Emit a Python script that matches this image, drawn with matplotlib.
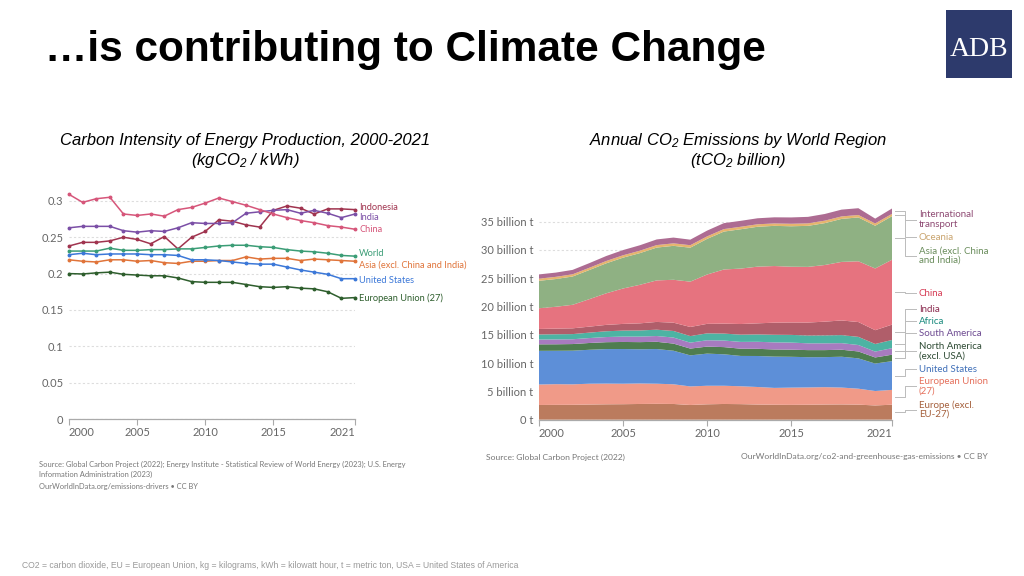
import numpy as np
import matplotlib.pyplot as plt
from matplotlib.lines import Line2D

plt.rcParams['font.family'] = ['Lato', 'DejaVu Sans']
plt.rcParams['mathtext.fontset'] = 'custom'
plt.rcParams['mathtext.rm'] = 'Liberation Sans:italic'
plt.rcParams['mathtext.it'] = 'Liberation Sans:italic'
plt.rcParams['mathtext.default'] = 'rm'

# ---- left chart: carbon intensity (kgCO2 / kWh) ----
years = np.arange(2000, 2022)

indonesia = [0.238, 0.243, 0.243, 0.245, 0.250, 0.247, 0.241, 0.251, 0.234, 0.250, 0.258,
             0.274, 0.272, 0.267, 0.264, 0.287, 0.293, 0.290, 0.282, 0.289, 0.289, 0.288]
india = [0.263, 0.265, 0.265, 0.265, 0.259, 0.257, 0.259, 0.258, 0.263, 0.270, 0.269,
         0.269, 0.270, 0.283, 0.285, 0.287, 0.288, 0.283, 0.287, 0.283, 0.277, 0.282]
china = [0.309, 0.298, 0.303, 0.305, 0.282, 0.280, 0.282, 0.279, 0.288, 0.291, 0.297,
         0.304, 0.299, 0.294, 0.288, 0.282, 0.277, 0.273, 0.270, 0.266, 0.264, 0.261]
world = [0.231, 0.231, 0.231, 0.235, 0.232, 0.232, 0.233, 0.233, 0.234, 0.234, 0.236,
         0.238, 0.239, 0.239, 0.237, 0.236, 0.233, 0.231, 0.230, 0.228, 0.225, 0.224]
asia_ex = [0.219, 0.217, 0.216, 0.219, 0.219, 0.217, 0.218, 0.215, 0.214, 0.217, 0.217,
           0.218, 0.218, 0.223, 0.220, 0.221, 0.221, 0.218, 0.220, 0.219, 0.218, 0.217]
usa = [0.226, 0.228, 0.226, 0.227, 0.227, 0.227, 0.226, 0.226, 0.225, 0.219, 0.219,
       0.218, 0.216, 0.214, 0.213, 0.213, 0.209, 0.205, 0.202, 0.199, 0.193, 0.193]
eu = [0.200, 0.1995, 0.201, 0.202, 0.199, 0.198, 0.197, 0.197, 0.194, 0.189, 0.188,
      0.188, 0.188, 0.185, 0.182, 0.181, 0.182, 0.180, 0.179, 0.175, 0.166, 0.167]

left_series = [
    ('Indonesia', indonesia, '#a0344f'),
    ('India', india, '#7b4fa6'),
    ('China', china, '#d6567a'),
    ('World', world, '#3b9d76'),
    ('Asia (excl. China and India)', asia_ex, '#e0743a'),
    ('United States', usa, '#3c78d8'),
    ('European Union (27)', eu, '#2e5e2d'),
]
left_label_y = [0.2916, 0.2765, 0.261, 0.227, 0.212, 0.191, 0.1664]
left_yticks = [0, 0.05, 0.1, 0.15, 0.2, 0.25, 0.3]
left_yticklabels = ['0', '0.05', '0.1', '0.15', '0.2', '0.25', '0.3']
xticks = [2000, 2005, 2010, 2015, 2021]

# ---- right chart: annual CO2 emissions by region (billion t) ----
europe_ex = [2.60, 2.62, 2.63, 2.68, 2.72, 2.74, 2.78, 2.80, 2.78, 2.60, 2.72,
             2.78, 2.75, 2.68, 2.64, 2.62, 2.64, 2.68, 2.70, 2.66, 2.52, 2.65]
eu27 = [3.62, 3.66, 3.62, 3.68, 3.66, 3.62, 3.62, 3.56, 3.48, 3.28, 3.28,
        3.22, 3.16, 3.10, 2.98, 3.05, 3.06, 3.07, 2.98, 2.82, 2.55, 2.62]
us = [5.95, 5.90, 5.95, 6.00, 6.10, 6.13, 6.05, 6.13, 5.93, 5.49, 5.68,
      5.56, 5.36, 5.48, 5.53, 5.45, 5.35, 5.31, 5.45, 5.36, 4.85, 5.08]
north_am = [1.15, 1.15, 1.17, 1.20, 1.22, 1.25, 1.26, 1.28, 1.26, 1.20, 1.24,
            1.27, 1.28, 1.27, 1.26, 1.26, 1.25, 1.24, 1.24, 1.22, 1.08, 1.14]
south_am = [0.85, 0.86, 0.85, 0.87, 0.91, 0.95, 0.98, 1.02, 1.07, 1.05, 1.12,
            1.16, 1.20, 1.24, 1.26, 1.25, 1.20, 1.20, 1.16, 1.14, 1.04, 1.15]
africa = [0.89, 0.91, 0.91, 0.96, 1.02, 1.06, 1.08, 1.12, 1.16, 1.16, 1.22,
          1.23, 1.28, 1.30, 1.34, 1.36, 1.38, 1.40, 1.42, 1.44, 1.34, 1.45]
india_em = [0.98, 1.00, 1.02, 1.06, 1.13, 1.18, 1.26, 1.37, 1.47, 1.61, 1.68,
            1.76, 1.88, 1.96, 2.14, 2.19, 2.29, 2.43, 2.59, 2.62, 2.44, 2.71]
china_em = [3.66, 3.86, 4.16, 4.86, 5.58, 6.26, 6.81, 7.34, 7.58, 8.01, 8.72,
            9.57, 9.80, 10.02, 10.01, 9.86, 9.84, 10.01, 10.35, 10.74, 10.91, 11.47]
asia_em = [4.85, 4.90, 5.00, 5.15, 5.30, 5.45, 5.60, 5.80, 6.00, 6.00, 6.30,
           6.70, 6.95, 7.05, 7.10, 7.15, 7.25, 7.40, 7.60, 7.75, 7.55, 7.70]
oceania = [0.38, 0.39, 0.39, 0.40, 0.41, 0.42, 0.43, 0.44, 0.44, 0.44, 0.44,
           0.44, 0.44, 0.44, 0.43, 0.44, 0.44, 0.44, 0.44, 0.43, 0.41, 0.41]
intl = [0.75, 0.75, 0.78, 0.82, 0.88, 0.92, 0.96, 1.00, 1.02, 0.98, 1.02,
        1.05, 1.05, 1.06, 1.08, 1.12, 1.15, 1.18, 1.20, 1.20, 0.85, 0.95]

right_layers = [
    ('Europe (excl.\nEU-27)', europe_ex, '#bb7b5e', '#a5603c'),
    ('European Union\n(27)', eu27, '#f09a88', '#e5705c'),
    ('United States', us, '#5d8fd8', '#3f6fb8'),
    ('North America\n(excl. USA)', north_am, '#4f7d50', '#2d4a33'),
    ('South America', south_am, '#a77bbf', '#6d4a91'),
    ('Africa', africa, '#4db3a3', '#1a8a7e'),
    ('India', india_em, '#b05e6a', '#8a2a4e'),
    ('China', china_em, '#e6737f', '#d63c55'),
    ('Asia (excl. China\nand India)', asia_em, '#8fb183', '#6a8d5c'),
    ('Oceania', oceania, '#e6b56e', '#c9a46e'),
    ('International\ntransport', intl, '#ad6c92', '#8e4a73'),
]
right_label_y = [1.80, 5.87, 8.96, 12.14, 15.32, 17.44, 19.56, 22.39, 29.01, 32.28, 35.37]
right_yticks = [0, 5, 10, 15, 20, 25, 30, 35]
right_yticklabels = ['0 t'] + ['%d billion t' % v for v in right_yticks[1:]]

fig = plt.figure(figsize=(10.24, 5.76), dpi=100)

# title and logo
fig.text(45 / 1024, 1 - 50 / 576, '\u2026is contributing to Climate Change',
         fontsize=30.5, fontweight='bold', family='Liberation Sans', va='center', ha='left')
logo = fig.add_axes([946 / 1024, 1 - 78 / 576, 66 / 1024, 68 / 576])
logo.set_facecolor('#2d3a6c')
logo.set_xticks([])
logo.set_yticks([])
for s in logo.spines.values():
    s.set_visible(False)
logo.text(0.5, 0.42, 'ADB', color='white', fontsize=20, family='Liberation Serif',
          ha='center', va='center', transform=logo.transAxes)

# subtitles
sub_kw = dict(fontsize=12, style='italic', family='Liberation Sans', ha='center', va='center')
fig.text(245 / 1024, 1 - 140 / 576, 'Carbon Intensity of Energy Production, 2000-2021', **sub_kw)
fig.text(245 / 1024, 1 - 161 / 576, '(kgCO$_2$ / kWh)', **sub_kw)
fig.text(738 / 1024, 1 - 140 / 576, 'Annual CO$_2$ Emissions by World Region', **sub_kw)
fig.text(738 / 1024, 1 - 161 / 576, '(tCO$_2$ billion)', **sub_kw)

grey = '#666666'


def style_axis(ax, xlim):
    ax.set_xlim(*xlim)
    for s in ['top', 'right', 'left']:
        ax.spines[s].set_visible(False)
    ax.spines['bottom'].set_color('#aaaaaa')
    ax.spines['bottom'].set_linewidth(0.9)
    ax.tick_params(axis='y', length=0, labelsize=8, labelcolor=grey, pad=4)
    ax.tick_params(axis='x', length=4, color='#aaaaaa', labelsize=8, labelcolor=grey, pad=2)
    ax.grid(axis='y', linestyle=(0, (2, 2)), color='#dddddd', linewidth=0.8)
    ax.set_axisbelow(True)
    ax.set_xticks(xticks)
    ax.set_xticklabels([str(x) for x in xticks])
    labs = ax.get_xticklabels()
    labs[0].set_ha('left')
    labs[-1].set_ha('right')


# ---- left axes ----
ax1 = fig.add_axes([69 / 1024, 1 - 419 / 576, 286 / 1024, 229 / 576])
ax1.set_ylim(0, 0.315)
style_axis(ax1, (2000, 2021))
ax1.set_yticks(left_yticks)
ax1.set_yticklabels(left_yticklabels)
for (name, vals, col), ly in zip(left_series, left_label_y):
    ax1.plot(years, vals, color=col, lw=1.1, marker='o', ms=1.8, clip_on=False)
    ax1.annotate(name, xy=(2021, ly), xytext=(3, 0), textcoords='offset points',
                 color=col, fontsize=6.7, va='center', ha='left', annotation_clip=False)

src_kw = dict(fontsize=5.4, color='#777777', ha='left', va='center')
fig.text(39 / 1024, 1 - 464 / 576, 'Source: Global Carbon Project (2022); Energy Institute - '
         'Statistical Review of World Energy (2023); U.S. Energy', **src_kw)
fig.text(39 / 1024, 1 - 474 / 576, 'Information Administration (2023)', **src_kw)
fig.text(39 / 1024, 1 - 487 / 576, 'OurWorldInData.org/emissions-drivers \u2022 CC BY', **src_kw)

# ---- right axes ----
ax2 = fig.add_axes([539 / 1024, 1 - 419.7 / 576, 353 / 1024, 215 / 576])
ax2.set_ylim(0, 38)
style_axis(ax2, (2000, 2021))
ax2.set_yticks(right_yticks)
ax2.set_yticklabels(right_yticklabels)
ax2.stackplot(years, *[l[1] for l in right_layers],
              colors=[l[2] for l in right_layers], linewidth=0)

tops = np.cumsum([l[1][-1] for l in right_layers])
mids = tops - np.array([l[1][-1] for l in right_layers]) / 2
for (name, vals, col, tcol), ly, ym in zip(right_layers, right_label_y, mids):
    ax2.add_line(Line2D([2021.15, 2021.8, 2021.8, 2022.45], [ym, ym, ly, ly],
                        color='#bbbbbb', lw=0.7, clip_on=False))
    ax2.text(2022.6, ly, name, color=tcol, fontsize=7, va='center', ha='left',
             linespacing=1.05, clip_on=False)

fig.text(486 / 1024, 1 - 457 / 576, 'Source: Global Carbon Project (2022)',
         fontsize=6.1, color='#777777', ha='left', va='center')
fig.text(988 / 1024, 1 - 457 / 576, 'OurWorldInData.org/co2-and-greenhouse-gas-emissions \u2022 CC BY',
         fontsize=6.1, color='#777777', ha='right', va='center')

fig.text(22 / 1024, 1 - 565 / 576, 'CO2 = carbon dioxide, EU = European Union, kg = kilograms, '
         'kWh = kilowatt hour, t = metric ton, USA = United States of America',
         fontsize=6.2, color='#999999', family='Liberation Sans', ha='left', va='center')

fig.savefig('out.png', dpi=100)
